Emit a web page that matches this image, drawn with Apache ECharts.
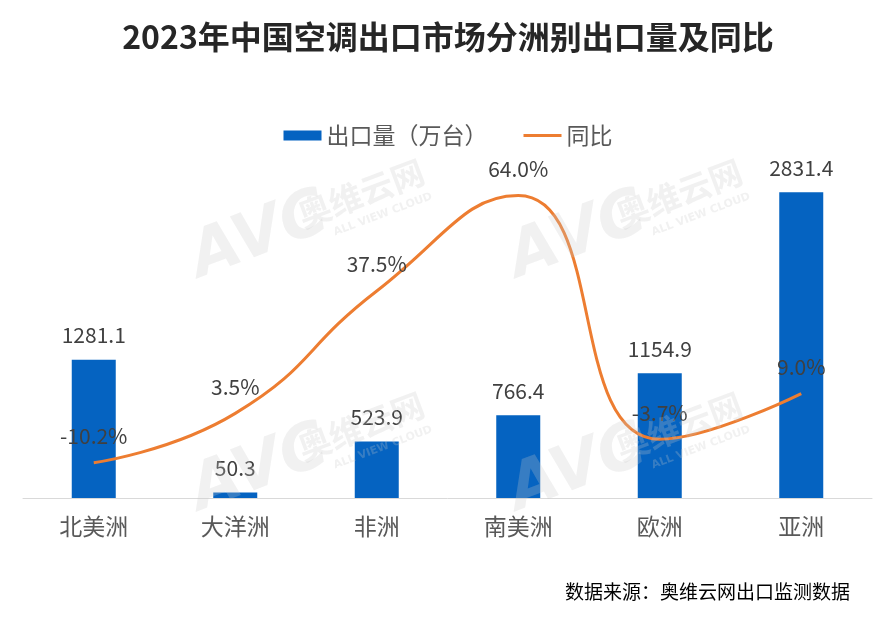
<!DOCTYPE html>
<html><head><meta charset="utf-8">
<script src="https://cdn.jsdelivr.net/npm/echarts@6/dist/echarts.min.js"></script>
<style>html,body{margin:0;padding:0;background:#fff}#c{width:896px;height:619px}</style>
</head><body><div id="c"></div>
<script>
const categories = ['北美洲','大洋洲','非洲','南美洲','欧洲','亚洲'];
const volume = [1281.1, 50.3, 523.9, 766.4, 1154.9, 2831.4];
const yoy = [-10.2, 3.5, 37.5, 64.0, -3.7, 9.0];
const FONT = '"Noto Sans CJK SC", sans-serif';
const WM = 'rgba(200,200,200,0.26)';
function wmGroup(dx, dy) {
  return [
    { type: 'text', x: 205 + dx, y: 292 + dy, rotation: 0.36, z: 100,
      style: { text: 'AVC', fontSize: 64, fontWeight: 'bold', fontStyle: 'italic', fill: WM, fontFamily: 'DejaVu Sans', textVerticalAlign: 'bottom' } },
    { type: 'text', x: 305 + dx, y: 232 + dy, rotation: 0.36, z: 100,
      style: { text: '奥维云网', fontSize: 33, fontWeight: 'bold', fill: WM, fontFamily: FONT, textVerticalAlign: 'bottom' } },
    { type: 'text', x: 336 + dx, y: 238 + dy, rotation: 0.36, z: 100,
      style: { text: 'ALL VIEW CLOUD', fontSize: 11, fontWeight: 'bold', fill: WM, fontFamily: 'DejaVu Sans', textVerticalAlign: 'bottom' } }
  ];
}
const chart = echarts.init(document.getElementById('c'));
chart.setOption({
  backgroundColor: '#fff',
  textStyle: { fontFamily: FONT },
  title: { text: '2023年中国空调出口市场分洲别出口量及同比', left: 'center', top: 16,
    textStyle: { fontSize: 32, fontWeight: 'bold', color: '#262626', fontFamily: FONT } },
  legend: { top: 119, left: 'center', itemGap: 36, itemWidth: 38, itemHeight: 10,
    textStyle: { fontSize: 23, color: '#595959', fontFamily: FONT },
    data: [{ name: '出口量（万台）', icon: 'rect' }, { name: '同比', icon: 'path://M0,0 L40,0 L40,3 L0,3 Z' }] },
  grid: { left: 23, right: 24, top: 174, bottom: 121 },
  xAxis: { type: 'category', data: categories,
    axisLine: { lineStyle: { color: '#d9d9d9', width: 1 } }, axisTick: { show: false },
    axisLabel: { fontSize: 23, color: '#595959', margin: 17, fontFamily: FONT } },
  yAxis: [
    { type: 'value', min: 0, max: 3000, show: false, splitLine: { show: false } },
    { type: 'value', min: -20, max: 70, show: false, splitLine: { show: false } }
  ],
  series: [
    { name: '出口量（万台）', type: 'bar', data: volume, barWidth: 44, yAxisIndex: 0,
      itemStyle: { color: '#0563C1' },
      label: { show: true, position: 'top', distance: 14, fontSize: 21, color: '#404040', fontFamily: FONT,
        formatter: p => p.value.toFixed(1) } },
    { name: '同比', type: 'line', data: yoy, yAxisIndex: 1, smooth: 0.5, symbol: 'circle', symbolSize: 0.01, showSymbol: true,
      lineStyle: { color: '#ED7D31', width: 3 }, itemStyle: { color: '#ED7D31' },
      label: { show: true, position: 'top', distance: 16, fontSize: 21, color: '#404040', fontFamily: FONT,
        formatter: p => p.value.toFixed(1) + '%' } }
  ],
  graphic: [
    { type: 'text', right: 46, top: 582, style: { text: '数据来源：奥维云网出口监测数据', fontSize: 19, fill: '#000', fontFamily: FONT } }
  ].concat(wmGroup(0, 0), wmGroup(318, 0), wmGroup(0, 233), wmGroup(318, 233))
});
</script></body></html>
